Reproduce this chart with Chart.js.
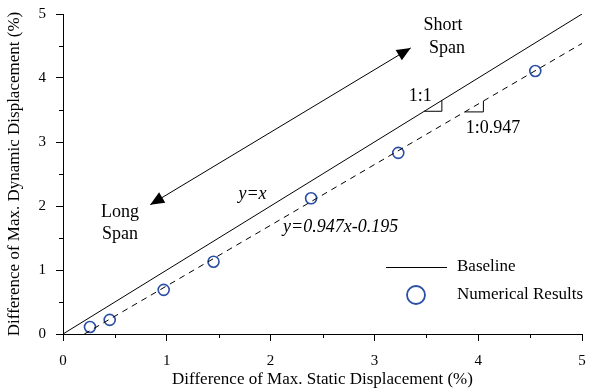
<!DOCTYPE html>
<html>
<head>
<meta charset="utf-8">
<script src="https://cdn.jsdelivr.net/npm/chart.js@4.4.0/dist/chart.umd.min.js"></script>
<style>
  html, body { margin: 0; padding: 0; background: #fff; }
  #wrap { width: 590px; height: 390px; }
</style>
</head>
<body>
<div id="wrap"><canvas id="c" width="590" height="390"></canvas></div>
<script>
// Numerical results: static vs dynamic displacement differences (%)
const staticDiff  = [0.26, 0.45, 0.97, 1.45, 2.39, 3.23, 4.55];
const dynamicDiff = [0.11, 0.22, 0.69, 1.13, 2.12, 2.83, 4.11];

// Baseline y = x
const baselineX = [0, 5];
// Fitted line y = 0.947x - 0.195
const fitSlope = 0.947;
const fitIntercept = -0.195;
const fitX = [0.206, 5];

const axisTicks = [0, 1, 2, 3, 4, 5];
const minorTicks = [0.5, 1.5, 2.5, 3.5, 4.5];

const FONT = "'Liberation Serif', 'Times New Roman', serif";
const BLUE = '#2a4ea6';

const pts = staticDiff.map((x, i) => ({ x: x, y: dynamicDiff[i] }));
const baseline = baselineX.map(x => ({ x: x, y: x }));
const fit = fitX.map(x => ({ x: x, y: fitSlope * x + fitIntercept }));

function arrowHead(ctx, tipX, tipY, fromX, fromY, len, half) {
  const a = Math.atan2(tipY - fromY, tipX - fromX);
  ctx.beginPath();
  ctx.moveTo(tipX, tipY);
  ctx.lineTo(tipX - len * Math.cos(a) + half * Math.sin(a), tipY - len * Math.sin(a) - half * Math.cos(a));
  ctx.lineTo(tipX - len * Math.cos(a) - half * Math.sin(a), tipY - len * Math.sin(a) + half * Math.cos(a));
  ctx.closePath();
  ctx.fill();
}

// Short minor tick marks on both axes
const minorTickMarks = {
  id: 'minorTickMarks',
  afterDraw(chart) {
    const { ctx, scales: { x, y }, chartArea } = chart;
    ctx.save();
    ctx.strokeStyle = '#000';
    ctx.lineWidth = 1;
    ctx.beginPath();
    minorTicks.forEach(v => {
      const px = Math.round(x.getPixelForValue(v)) + 0.5;
      ctx.moveTo(px, chartArea.bottom);
      ctx.lineTo(px, chartArea.bottom + 4);
      const py = Math.round(y.getPixelForValue(v)) + 0.5;
      ctx.moveTo(chartArea.left, py);
      ctx.lineTo(chartArea.left - 4, py);
    });
    ctx.stroke();
    ctx.restore();
  }
};

const annotations = {
  id: 'annotations',
  afterDatasetsDraw(chart) {
    const { ctx, scales: { x, y } } = chart;
    const X = v => x.getPixelForValue(v);
    const Y = v => y.getPixelForValue(v);
    ctx.save();
    ctx.strokeStyle = '#000';
    ctx.fillStyle = '#000';
    ctx.lineWidth = 1;

    // Double arrow: long span <-> short span
    const ax = X(0.84), ay = Y(2.02), bx = X(3.35), by = Y(4.47);
    ctx.beginPath();
    ctx.moveTo(ax, ay);
    ctx.lineTo(bx, by);
    ctx.stroke();
    arrowHead(ctx, bx, by, ax, ay, 14, 6);
    arrowHead(ctx, ax, ay, bx, by, 14, 6);

    // Slope triangles
    ctx.beginPath();
    ctx.moveTo(X(3.48), Y(3.48));
    ctx.lineTo(X(3.65), Y(3.48));
    ctx.lineTo(X(3.65), Y(3.65));
    ctx.stroke();
    const y1 = 3.47, x1 = (y1 - fitIntercept) / fitSlope, x2 = x1 + 0.18;
    ctx.beginPath();
    ctx.moveTo(X(x1), Y(y1));
    ctx.lineTo(X(x2), Y(y1));
    ctx.lineTo(X(x2), Y(fitSlope * x2 + fitIntercept));
    ctx.stroke();

    // Labels
    ctx.font = '18px ' + FONT;
    ctx.textBaseline = 'middle';
    ctx.textAlign = 'center';
    ctx.fillText('Short', X(3.66), Y(4.82));
    ctx.fillText('Span', X(3.70), Y(4.47));
    ctx.fillText('Long', X(0.55), Y(1.90));
    ctx.fillText('Span', X(0.55), Y(1.56));
    ctx.textAlign = 'left';
    ctx.fillText('1:1', X(3.33), Y(3.72));
    ctx.fillText('1:0.947', X(3.88), Y(3.21));
    ctx.font = 'italic 18px ' + FONT;
    ctx.fillText('y=x', X(1.69), Y(2.18));
    ctx.fillText('y=0.947x-0.195', X(2.12), Y(1.67));

    // Legend
    ctx.font = '17px ' + FONT;
    const lx = 386, lx2 = 447, tx = 457;
    const ly1 = 267, ly2 = 295;
    ctx.beginPath();
    ctx.moveTo(lx, ly1 + 0.5);
    ctx.lineTo(lx2, ly1 + 0.5);
    ctx.stroke();
    ctx.fillText('Baseline', tx, ly1);
    ctx.strokeStyle = BLUE;
    ctx.lineWidth = 1.8;
    ctx.beginPath();
    ctx.arc(416, ly2, 9, 0, Math.PI * 2);
    ctx.stroke();
    ctx.fillText('Numerical Results', tx, ly2);
    ctx.restore();
  }
};

function axisCommon(title) {
  return {
    type: 'linear',
    min: 0,
    max: 5,
    border: { display: true, color: '#000', width: 1 },
    grid: { display: true, drawOnChartArea: false, drawTicks: true, tickLength: 7, color: '#000', lineWidth: 1 },
    ticks: {
      stepSize: 1,
      autoSkip: false,
      maxRotation: 0,
      color: '#000',
      font: { family: FONT, size: 15 },
      callback: v => (axisTicks.includes(v) ? String(v) : '')
    },
    title: { display: true, text: title, color: '#000', font: { family: FONT, size: 17 } }
  };
}

const xAxis = axisCommon('Difference of Max. Static Displacement (%)');
xAxis.ticks.padding = 11;
xAxis.title.padding = { top: 0, bottom: 0 };
xAxis.afterFit = s => { s.height = 56; s.paddingLeft = 0; s.paddingRight = 0; };
const yAxis = axisCommon('Difference of Max. Dynamic Displacement (%)');
yAxis.ticks.padding = 10;
yAxis.title.padding = { top: 4, bottom: 0 };
yAxis.afterFit = s => { s.width = 63; s.paddingTop = 0; s.paddingBottom = 0; };

new Chart(document.getElementById('c'), {
  type: 'scatter',
  data: {
    datasets: [
      {
        label: 'Baseline',
        data: baseline,
        showLine: true,
        borderColor: '#000',
        borderWidth: 1,
        pointRadius: 0,
        fill: false
      },
      {
        label: 'Fit',
        data: fit,
        showLine: true,
        borderColor: '#000',
        borderWidth: 1,
        borderDash: [6, 5],
        pointRadius: 0,
        fill: false
      },
      {
        label: 'Numerical Results',
        data: pts,
        showLine: false,
        pointRadius: 5.5,
        pointBorderColor: BLUE,
        pointBackgroundColor: 'rgba(0,0,0,0)',
        pointBorderWidth: 1.6
      }
    ]
  },
  options: {
    responsive: false,
    animation: false,
    layout: { padding: { top: 14, right: 8, left: 0, bottom: 0 } },
    plugins: { legend: { display: false }, tooltip: { enabled: false } },
    scales: { x: xAxis, y: yAxis }
  },
  plugins: [minorTickMarks, annotations]
});
</script>
</body>
</html>
